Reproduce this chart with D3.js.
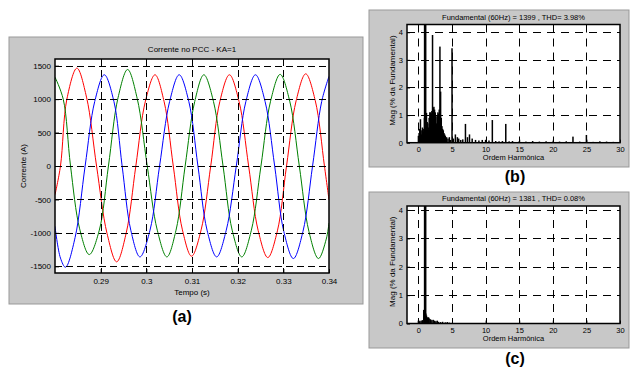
<!DOCTYPE html>
<html>
<head>
<meta charset="utf-8">
<script src="https://cdn.jsdelivr.net/npm/d3@7"></script>
<style>
  body { margin: 0; background: #fff; }
  svg text { font-family: "Liberation Sans", Arial, sans-serif; }
</style>
</head>
<body>
<div id="chart"></div>
<script>
// ---- Data ----
// (a) phase currents [time (s), current (A)]
const phaseRed = [
  [0.2800, -430], [0.2812, 0], [0.2826, 1000], [0.2848, 1463], [0.2869, 1030], [0.2891, 0],
  [0.2914, -1010], [0.2935, -1433], [0.2956, -1000], [0.2977, 0], [0.2998, 970], [0.3019, 1364],
  [0.3039, 960], [0.3059, 0], [0.3079, -955], [0.3099, -1349], [0.3120, -955], [0.3141, 0],
  [0.3161, 965], [0.3182, 1364], [0.3203, 965], [0.3224, 0], [0.3245, -968], [0.3266, -1369],
  [0.3287, -970], [0.3307, 0], [0.3328, 975], [0.3349, 1378], [0.3370, 975], [0.3390, 0],
  [0.3400, -506]
];
const phaseBlue = [
  [0.2800, -903], [0.2812, -1377], [0.2823, -1513], [0.2844, -1070], [0.2866, 0], [0.2887, 965],
  [0.2908, 1364], [0.2929, 965], [0.2947, 0], [0.2966, -960], [0.2986, -1359], [0.3008, -960],
  [0.3029, 0], [0.3051, 965], [0.3072, 1364], [0.3093, 965], [0.3113, 0], [0.3133, -960],
  [0.3154, -1359], [0.3175, -960], [0.3197, 0], [0.3218, 965], [0.3239, 1364], [0.3260, 965],
  [0.3281, 0], [0.3301, -978], [0.3322, -1384], [0.3343, -978], [0.3364, 0], [0.3384, 965],
  [0.3400, 1340]
];
const phaseGreen = [
  [0.2800, 1329], [0.2818, 1000], [0.2834, 0], [0.2854, -940], [0.2875, -1324], [0.2897, -960],
  [0.2917, 0], [0.2938, 1020], [0.2959, 1443], [0.2980, 1010], [0.3002, 0], [0.3024, -960],
  [0.3045, -1359], [0.3065, -960], [0.3085, 0], [0.3106, 965], [0.3126, 1364], [0.3147, 965],
  [0.3168, 0], [0.3188, -960], [0.3209, -1359], [0.3230, -960], [0.3251, 0], [0.3272, 968],
  [0.3293, 1370], [0.3314, 970], [0.3335, 0], [0.3356, -978], [0.3377, -1384], [0.3394, -1093],
  [0.3400, -853]
];
const timeTicks = [0.29, 0.30, 0.31, 0.32, 0.33, 0.34];
const currentTicks = [-1500, -1000, -500, 0, 500, 1000, 1500];

// (b) spectrum before compensation [harmonic order, % of fundamental]
const spectrumB = [
  [0.0, 0.25], [0.1, 0.35], [0.2, 0.5], [0.3, 0.85], [0.4, 0.45], [0.5, 0.3], [0.6, 0.55],
  [0.7, 0.4], [0.8, 0.5], [0.9, 0.9], [1.0, 100], [1.1, 1.05], [1.2, 1.08], [1.3, 0.75],
  [1.4, 0.7], [1.5, 0.55], [1.6, 0.9], [1.7, 1.1], [1.8, 1.1], [1.9, 1.05], [2.0, 1.15],
  [2.1, 3.9], [2.2, 1.25], [2.3, 1.3], [2.4, 1.2], [2.5, 1.1], [2.6, 0.95], [2.7, 0.7],
  [2.8, 1.0], [2.9, 1.1], [3.0, 1.05], [3.1, 1.2], [3.2, 3.48], [3.3, 1.85], [3.4, 0.9],
  [3.5, 0.6], [3.6, 0.5], [3.7, 0.45], [3.8, 0.35], [3.9, 0.3], [4.0, 0.25], [4.2, 0.2],
  [4.4, 0.15], [4.6, 0.2], [4.8, 0.1], [5.0, 3.42], [5.2, 0.15], [5.5, 0.3], [5.8, 0.2],
  [6.0, 0.15], [6.3, 0.1], [6.6, 0.12], [7.0, 0.68], [7.3, 0.2], [7.6, 0.3], [8.0, 0.15],
  [8.5, 0.1], [9.0, 0.08], [9.5, 0.1], [10.0, 0.1], [10.5, 0.08], [11.0, 0.82], [11.5, 0.06],
  [12.0, 0.05], [12.5, 0.06], [13.0, 0.68], [13.5, 0.05], [14.0, 0.06], [15.0, 0.05],
  [16.0, 0.04], [17.0, 0.06], [18.0, 0.04], [19.0, 0.05], [20.0, 0.04], [21.0, 0.04],
  [22.0, 0.05], [23.0, 0.22], [24.0, 0.04], [25.0, 0.28], [26.0, 0.03], [27.0, 0.05],
  [28.0, 0.04], [29.0, 0.03]
];
// (c) spectrum after compensation
const spectrumC = [
  [0.0, 0.1], [0.2, 0.08], [0.4, 0.1], [0.6, 0.12], [0.8, 0.48], [0.9, 0.4], [1.0, 100],
  [1.1, 0.35], [1.2, 0.28], [1.3, 0.22], [1.4, 0.2], [1.5, 0.22], [1.6, 0.18], [1.8, 0.15],
  [2.0, 0.12], [2.2, 0.13], [2.4, 0.1], [2.6, 0.08], [2.8, 0.1], [3.0, 0.06], [3.3, 0.05],
  [3.6, 0.06], [4.0, 0.04], [4.3, 0.05], [4.6, 0.03], [5.0, 0.02]
];
const orderTicks = [0, 5, 10, 15, 20, 25, 30];
const magTicks = [0, 1, 2, 3, 4];

// ---- Layout ----
const font = "\"Liberation Sans\", Arial, sans-serif";
const panelFill = "#c8c8c8";
const panelEdge = "#999";

const svg = d3.select("#chart")
    .append("svg")
    .attr("width", 631)
    .attr("height", 372);

// ---- Panel (a): currents ----
const plotA = {left: 55, top: 59, right: 329, bottom: 273};

svg.append("rect")
    .attr("x", 9).attr("y", 37)
    .attr("width", 354).attr("height", 267)
    .attr("fill", panelFill)
    .attr("stroke", panelEdge);

const xA = d3.scaleLinear().domain([0.2800, 0.34]).range([plotA.left, plotA.right]);
const yA = d3.scaleLinear().domain([-1600, 1600]).range([plotA.bottom, plotA.top]);

svg.append("rect")
    .attr("x", plotA.left).attr("y", plotA.top)
    .attr("width", plotA.right - plotA.left).attr("height", plotA.bottom - plotA.top)
    .attr("fill", "#fff");

svg.append("clipPath").attr("id", "clipA")
  .append("rect")
    .attr("x", plotA.left).attr("y", plotA.top)
    .attr("width", plotA.right - plotA.left).attr("height", plotA.bottom - plotA.top);

const line = d3.line()
    .x(d => xA(d[0]))
    .y(d => yA(d[1]))
    .curve(d3.curveCatmullRom);

const curves = svg.append("g").attr("clip-path", "url(#clipA)");
[[phaseRed, "#ff0000"], [phaseGreen, "#008000"], [phaseBlue, "#0000ff"]].forEach(([data, color]) => {
  curves.append("path")
      .datum(data)
      .attr("fill", "none")
      .attr("stroke", color)
      .attr("stroke-width", 1)
      .attr("d", line);
});

// Grid (dashed, drawn over the data like the original)
const gridA = svg.append("g").attr("stroke", "#000").attr("stroke-width", 1).attr("stroke-dasharray", "7,4");
gridA.selectAll(".vx").data(timeTicks.slice(0, -1)).join("line")
    .attr("x1", d => Math.round(xA(d)) + 0.5).attr("x2", d => Math.round(xA(d)) + 0.5)
    .attr("y1", plotA.top).attr("y2", plotA.bottom);
gridA.selectAll(".hy").data(currentTicks).join("line")
    .attr("x1", plotA.left).attr("x2", plotA.right)
    .attr("y1", d => Math.round(yA(d)) + 0.5).attr("y2", d => Math.round(yA(d)) + 0.5);

// Axes (ticks pointing inward, MATLAB style)
const axA_x = svg.append("g")
    .attr("transform", `translate(0,${plotA.bottom})`)
    .call(d3.axisBottom(xA).tickValues(timeTicks).tickSize(-4).tickPadding(5).tickFormat(d => String(+d.toFixed(2))));
const axA_y = svg.append("g")
    .attr("transform", `translate(${plotA.left},0)`)
    .call(d3.axisLeft(yA).tickValues(currentTicks).tickSize(-4).tickPadding(4).tickFormat(d => String(d)));
[axA_x, axA_y].forEach(a => {
  a.select(".domain").remove();
  a.selectAll("text").style("font-family", font).style("font-size", "8px").attr("fill", "#000");
});

svg.append("rect")
    .attr("x", plotA.left).attr("y", plotA.top)
    .attr("width", plotA.right - plotA.left).attr("height", plotA.bottom - plotA.top)
    .attr("fill", "none").attr("stroke", "#000").attr("stroke-width", 1.5);

// Labels
svg.append("text")
    .attr("x", (plotA.left + plotA.right) / 2).attr("y", 52)
    .attr("text-anchor", "middle").style("font-size", "8px")
    .text("Corrente no PCC - KA=1");
svg.append("text")
    .attr("x", (plotA.left + plotA.right) / 2).attr("y", 295)
    .attr("text-anchor", "middle").style("font-size", "8px")
    .text("Tempo (s)");
svg.append("text")
    .attr("transform", `translate(26,${(plotA.top + plotA.bottom) / 2}) rotate(-90)`)
    .attr("text-anchor", "middle").style("font-size", "8px")
    .text("Corrente (A)");
svg.append("text")
    .attr("x", 182).attr("y", 322)
    .attr("text-anchor", "middle").style("font-size", "16px").style("font-weight", "bold")
    .text("(a)");

// ---- Panels (b) and (c): harmonic spectra ----
function drawSpectrum(id, panel, plot, yMax, data, title, tag, tagY) {
  svg.append("rect")
      .attr("x", panel.x).attr("y", panel.y)
      .attr("width", panel.w).attr("height", panel.h)
      .attr("fill", panelFill)
      .attr("stroke", panelEdge);

  const x = d3.scaleLinear().domain([-1.7, 30]).range([plot.left, plot.right]);
  const y = d3.scaleLinear().domain([0, yMax]).range([plot.bottom, plot.top]);

  svg.append("rect")
      .attr("x", plot.left).attr("y", plot.top)
      .attr("width", plot.right - plot.left).attr("height", plot.bottom - plot.top)
      .attr("fill", "#fff");

  svg.append("clipPath").attr("id", id)
    .append("rect")
      .attr("x", plot.left).attr("y", plot.top)
      .attr("width", plot.right - plot.left).attr("height", plot.bottom - plot.top);

  // Grid
  const grid = svg.append("g").attr("stroke", "#000").attr("stroke-width", 1).attr("stroke-dasharray", "8,6");
  grid.selectAll(".vx").data(orderTicks.slice(0, -1)).join("line")
      .attr("x1", d => Math.round(x(d)) + 0.5).attr("x2", d => Math.round(x(d)) + 0.5)
      .attr("y1", plot.top).attr("y2", plot.bottom);
  grid.selectAll(".hy").data(magTicks.slice(1)).join("line")
      .attr("x1", plot.left).attr("x2", plot.right)
      .attr("y1", d => Math.round(y(d)) + 0.5).attr("y2", d => Math.round(y(d)) + 0.5);

  // Bars
  svg.append("g").attr("clip-path", `url(#${id})`)
    .selectAll("rect").data(data).join("rect")
      .attr("x", d => x(d[0]) - (d[1] > 50 ? 1.3 : 0.75))
      .attr("width", d => d[1] > 50 ? 2.6 : 1.5)
      .attr("y", d => y(Math.min(d[1], yMax + 1)))
      .attr("height", d => y(0) - y(Math.min(d[1], yMax + 1)))
      .attr("fill", "#000");

  const ax = svg.append("g")
      .attr("transform", `translate(0,${plot.bottom})`)
      .call(d3.axisBottom(x).tickValues(orderTicks).tickSize(-3).tickPadding(4).tickFormat(d => String(d)));
  const ay = svg.append("g")
      .attr("transform", `translate(${plot.left},0)`)
      .call(d3.axisLeft(y).tickValues(magTicks).tickSize(-3).tickPadding(4).tickFormat(d => String(d)));
  [ax, ay].forEach(a => {
    a.select(".domain").remove();
    a.selectAll("text").style("font-family", font).style("font-size", "7.5px").attr("fill", "#000");
  });

  svg.append("rect")
      .attr("x", plot.left).attr("y", plot.top)
      .attr("width", plot.right - plot.left).attr("height", plot.bottom - plot.top)
      .attr("fill", "none").attr("stroke", "#000").attr("stroke-width", 1.5);

  svg.append("text")
      .attr("x", (plot.left + plot.right) / 2).attr("y", plot.top - 5)
      .attr("text-anchor", "middle").style("font-size", "7.5px")
      .text(title);
  svg.append("text")
      .attr("x", (plot.left + plot.right) / 2).attr("y", plot.bottom + 17)
      .attr("text-anchor", "middle").style("font-size", "7.5px")
      .text("Ordem Harmônica");
  svg.append("text")
      .attr("transform", `translate(395,${(plot.top + plot.bottom) / 2 - 3}) rotate(-90)`)
      .attr("text-anchor", "middle").style("font-size", "8px")
      .text("Mag (% da Fundamental)");
  svg.append("text")
      .attr("x", 515).attr("y", tagY)
      .attr("text-anchor", "middle").style("font-size", "16px").style("font-weight", "bold")
      .text(tag);
}

drawSpectrum("clipB", {x: 369, y: 10, w: 260, h: 157}, {left: 407, top: 24.5, right: 620, bottom: 142.7},
    4.28, spectrumB, "Fundamental (60Hz) = 1399 , THD= 3.98%", "(b)", 182);
drawSpectrum("clipC", {x: 369, y: 192, w: 260, h: 156}, {left: 407, top: 206, right: 620, bottom: 323.5},
    4.14, spectrumC, "Fundamental (60Hz) = 1381 , THD= 0.08%", "(c)", 364);
</script>
</body>
</html>
